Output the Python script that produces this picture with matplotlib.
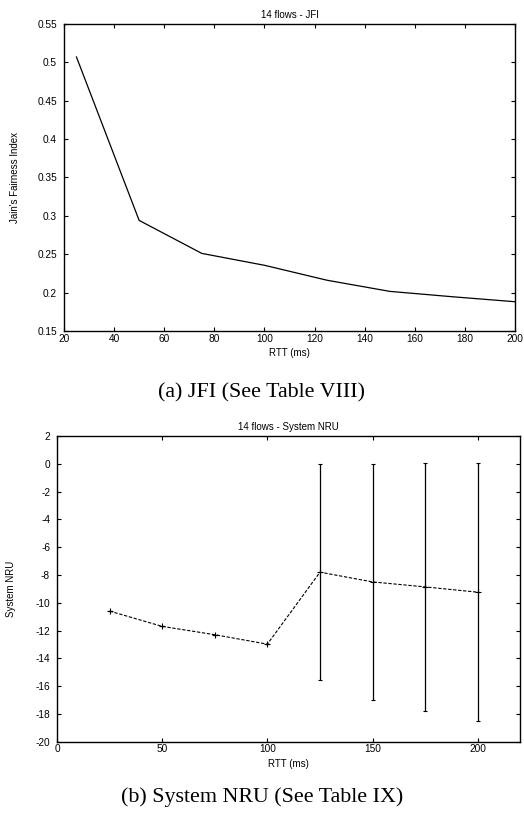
import matplotlib
import numpy as np

from matplotlib import pyplot as plt

matplotlib.use('agg')

plt.rcParams['font.family'] = ['Liberation Sans', 'DejaVu Sans']
plt.rcParams['axes.unicode_minus'] = False

# JFI vs RTT
rtt_jfi = [25, 50, 75, 100, 125, 150, 175, 200]
jfi = [0.507, 0.294, 0.251, 0.2355, 0.216, 0.2015, 0.1945, 0.188]

# System NRU vs RTT, with min/max bars
rtt_nru = [25, 50, 75, 100, 125, 150, 175, 200]
nru = [-10.6, -11.7, -12.3, -12.98, -7.8, -8.5, -8.86, -9.24]
nru_top = [-10.6, -11.7, -12.3, -12.98, -0.05, 0.02, 0.05, 0.05]
nru_bottom = [-10.6, -11.7, -12.3, -12.98, -15.57, -17.0, -17.8, -18.5]

TICK_FS = 7.3
LABEL_FS = 7.0
CAPTION_FS = 15.8


def style_axes(ax):
    ax.tick_params(direction='in', length=3, width=0.8, labelsize=TICK_FS,
                   top=True, right=True)
    ax.tick_params(axis='y', pad=5)
    ax.tick_params(axis='x', pad=2)
    for s in ax.spines.values():
        s.set_linewidth(1.0)


fig = plt.figure(figsize=(5.24, 8.13), dpi=100)

# (a) JFI
ax1 = fig.add_axes([0.122, 0.593, 0.861, 0.3775])
ax1.plot(rtt_jfi, jfi, color='black', lw=0.9)
ax1.set_xlim(20, 200)
ax1.set_ylim(0.15, 0.55)
ax1.set_xticks(np.arange(20, 201, 20))
yt = np.arange(0.15, 0.551, 0.05)
ax1.set_yticks(yt)
ax1.set_yticklabels(['%g' % round(v, 2) for v in yt])
ax1.set_title('14 flows - JFI', fontsize=LABEL_FS, pad=4)
ax1.set_xlabel('RTT (ms)', fontsize=LABEL_FS, labelpad=3)
ax1.set_ylabel("Jain's Fairness Index", fontsize=LABEL_FS)
ax1.yaxis.set_label_coords(-0.098, 0.5)
style_axes(ax1)
fig.text(0.5, 1 - 393 / 813, '(a) JFI (See Table VIII)', ha='center', va='center',
         fontsize=CAPTION_FS, family='Liberation Serif')

# (b) System NRU
ax2 = fig.add_axes([0.1088, 0.0877, 0.8832, 0.376])
yerr = [np.array(nru) - np.array(nru_bottom), np.array(nru_top) - np.array(nru)]
ax2.errorbar(rtt_nru, nru, yerr=yerr, color='black', lw=0.8, ls=(0, (3, 1.5)),
             marker='+', ms=4, mew=0.8, capsize=1.5, elinewidth=0.9, capthick=0.9)
ax2.set_xlim(0, 220)
ax2.set_ylim(-20, 2)
ax2.set_xticks(np.arange(0, 201, 50))
ax2.set_yticks(np.arange(-20, 3, 2))
ax2.set_title('14 flows - System NRU', fontsize=LABEL_FS, pad=4)
ax2.set_xlabel('RTT (ms)', fontsize=LABEL_FS, labelpad=3)
ax2.set_ylabel('System NRU', fontsize=LABEL_FS)
ax2.yaxis.set_label_coords(-0.088, 0.5)
style_axes(ax2)
fig.text(0.5, 1 - 797 / 813, '(b) System NRU (See Table IX)', ha='center', va='center',
         fontsize=CAPTION_FS, family='Liberation Serif')

fig.savefig('out.png', dpi=100)
plt.close(fig)
